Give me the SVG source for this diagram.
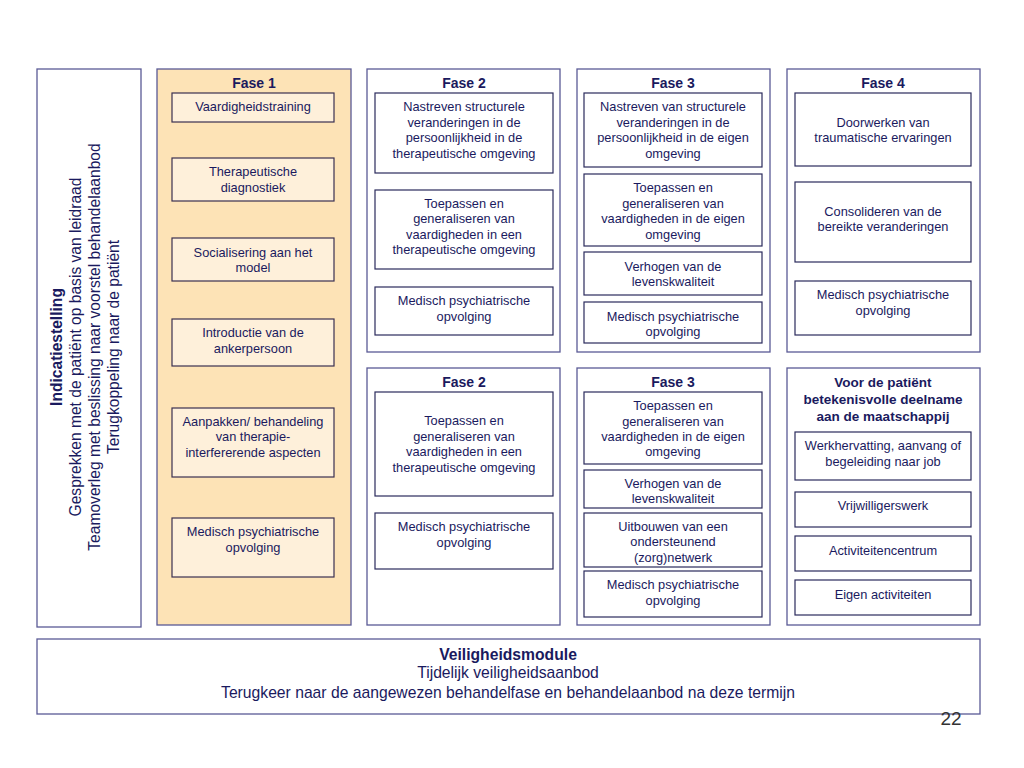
<svg xmlns="http://www.w3.org/2000/svg" width="1024" height="768" viewBox="0 0 1024 768">
<style>
.outer{fill:#ffffff;stroke:#5a5a96;stroke-width:1.3}
.outerF1{fill:#fde3b6;stroke:#5a5a96;stroke-width:1.3}
.inner{fill:#ffffff;stroke:#2a2a5c;stroke-width:1.2}
.innerF1{fill:#fef0da;stroke:#3a3050;stroke-width:1.2}
text{font-family:"Liberation Sans",Arial,sans-serif;fill:#1a1a5e;text-anchor:middle}
.t{font-size:12.8px}
.h{font-size:14px;font-weight:bold}
.hv{font-size:13.5px;font-weight:bold}
.v{font-size:15.6px}
.vb{font-size:15.6px;font-weight:bold}
.m{font-size:15.7px}
.mb{font-size:15.7px;font-weight:bold}
.num{font-size:19px;fill:#333333}
</style>
<rect width="1024" height="768" fill="#ffffff"/>

<g id="indicatiestelling">
<rect class="outer" x="37" y="69" width="104" height="558"/>
<g transform="translate(0,347) rotate(-90)">
<text class="vb" x="0" y="62">Indicatiestelling</text>
<text class="v" x="0" y="81">Gesprekken met de patiënt op basis van leidraad</text>
<text class="v" x="0" y="100">Teamoverleg met beslissing naar voorstel behandelaanbod</text>
<text class="v" x="0" y="119">Terugkoppeling naar de patiënt</text>
</g>
</g>

<g id="fase1">
<rect class="outerF1" x="157" y="69" width="194" height="556"/>
<text class="h" x="254" y="88">Fase 1</text>
<rect class="innerF1" x="172" y="93" width="162" height="29"/>
<text class="t" x="253" y="110.5">Vaardigheidstraining</text>
<rect class="innerF1" x="172" y="158" width="162" height="43"/>
<text class="t" x="253" y="175.5">Therapeutische</text>
<text class="t" x="253" y="191.5">diagnostiek</text>
<rect class="innerF1" x="172" y="238" width="162" height="43"/>
<text class="t" x="253" y="256.5">Socialisering aan het</text>
<text class="t" x="253" y="271.5">model</text>
<rect class="innerF1" x="172" y="319" width="162" height="47"/>
<text class="t" x="253" y="336.5">Introductie van de</text>
<text class="t" x="253" y="352.5">ankerpersoon</text>
<rect class="innerF1" x="172" y="408" width="162" height="69"/>
<text class="t" x="253" y="425.5">Aanpakken/ behandeling</text>
<text class="t" x="253" y="440.5">van therapie-</text>
<text class="t" x="253" y="456.5">interfererende aspecten</text>
<rect class="innerF1" x="172" y="518" width="162" height="59"/>
<text class="t" x="253" y="535.5">Medisch psychiatrische</text>
<text class="t" x="253" y="551.5">opvolging</text>
</g>

<g id="fase2-top">
<rect class="outer" x="367" y="69" width="193" height="283"/>
<text class="h" x="464" y="88">Fase 2</text>
<rect class="inner" x="375" y="93" width="178" height="80"/>
<text class="t" x="464" y="110.5">Nastreven structurele</text>
<text class="t" x="464" y="126.5">veranderingen in de</text>
<text class="t" x="464" y="141.5">persoonlijkheid in de</text>
<text class="t" x="464" y="157.5">therapeutische omgeving</text>
<rect class="inner" x="375" y="190" width="178" height="79"/>
<text class="t" x="464" y="207.5">Toepassen en</text>
<text class="t" x="464" y="222.5">generaliseren van</text>
<text class="t" x="464" y="238.5">vaardigheden in een</text>
<text class="t" x="464" y="253.5">therapeutische omgeving</text>
<rect class="inner" x="375" y="287" width="178" height="48"/>
<text class="t" x="464" y="304.5">Medisch psychiatrische</text>
<text class="t" x="464" y="320.5">opvolging</text>
</g>

<g id="fase3-top">
<rect class="outer" x="577" y="69" width="193" height="283"/>
<text class="h" x="673" y="88">Fase 3</text>
<rect class="inner" x="584" y="93" width="178" height="74"/>
<text class="t" x="673" y="110.5">Nastreven van structurele</text>
<text class="t" x="673" y="126.5">veranderingen in de</text>
<text class="t" x="673" y="141.5">persoonlijkheid in de eigen</text>
<text class="t" x="673" y="157.5">omgeving</text>
<rect class="inner" x="584" y="174" width="178" height="72"/>
<text class="t" x="673" y="191.5">Toepassen en</text>
<text class="t" x="673" y="207.5">generaliseren van</text>
<text class="t" x="673" y="222.5">vaardigheden in de eigen</text>
<text class="t" x="673" y="238.5">omgeving</text>
<rect class="inner" x="584" y="252" width="178" height="43"/>
<text class="t" x="673" y="270.5">Verhogen van de</text>
<text class="t" x="673" y="285.5">levenskwaliteit</text>
<rect class="inner" x="584" y="302" width="178" height="41"/>
<text class="t" x="673" y="320.5">Medisch psychiatrische</text>
<text class="t" x="673" y="335.5">opvolging</text>
</g>

<g id="fase4">
<rect class="outer" x="787" y="69" width="193" height="283"/>
<text class="h" x="883" y="88">Fase 4</text>
<rect class="inner" x="795" y="93" width="176" height="73"/>
<text class="t" x="883" y="126.5">Doorwerken van</text>
<text class="t" x="883" y="141.5">traumatische ervaringen</text>
<rect class="inner" x="795" y="182" width="176" height="80"/>
<text class="t" x="883" y="215.5">Consolideren van de</text>
<text class="t" x="883" y="230.5">bereikte veranderingen</text>
<rect class="inner" x="795" y="281" width="176" height="54"/>
<text class="t" x="883" y="298.5">Medisch psychiatrische</text>
<text class="t" x="883" y="314.5">opvolging</text>
</g>

<g id="fase2-bottom">
<rect class="outer" x="367" y="368" width="193" height="257"/>
<text class="h" x="464" y="387">Fase 2</text>
<rect class="inner" x="375" y="392" width="178" height="104"/>
<text class="t" x="464" y="424.5">Toepassen en</text>
<text class="t" x="464" y="440.5">generaliseren van</text>
<text class="t" x="464" y="455.5">vaardigheden in een</text>
<text class="t" x="464" y="471.5">therapeutische omgeving</text>
<rect class="inner" x="375" y="513" width="178" height="56"/>
<text class="t" x="464" y="530.5">Medisch psychiatrische</text>
<text class="t" x="464" y="546.5">opvolging</text>
</g>

<g id="fase3-bottom">
<rect class="outer" x="577" y="368" width="193" height="257"/>
<text class="h" x="673" y="387">Fase 3</text>
<rect class="inner" x="584" y="392" width="178" height="72"/>
<text class="t" x="673" y="409.5">Toepassen en</text>
<text class="t" x="673" y="425.5">generaliseren van</text>
<text class="t" x="673" y="440.5">vaardigheden in de eigen</text>
<text class="t" x="673" y="455.5">omgeving</text>
<rect class="inner" x="584" y="470" width="178" height="38"/>
<text class="t" x="673" y="487.5">Verhogen van de</text>
<text class="t" x="673" y="502.5">levenskwaliteit</text>
<rect class="inner" x="584" y="513" width="178" height="54"/>
<text class="t" x="673" y="530.5">Uitbouwen van een</text>
<text class="t" x="673" y="545.5">ondersteunend</text>
<text class="t" x="673" y="561.5">(zorg)netwerk</text>
<rect class="inner" x="584" y="571" width="178" height="46"/>
<text class="t" x="673" y="588.5">Medisch psychiatrische</text>
<text class="t" x="673" y="604.5">opvolging</text>
</g>

<g id="maatschappij">
<rect class="outer" x="787" y="368" width="193" height="257"/>
<text class="hv" x="883" y="387">Voor de patiënt</text>
<text class="hv" x="883" y="404">betekenisvolle deelname</text>
<text class="hv" x="883" y="421">aan de maatschappij</text>
<rect class="inner" x="795" y="432" width="176" height="48"/>
<text class="t" x="883" y="449.5">Werkhervatting, aanvang of</text>
<text class="t" x="883" y="465.5">begeleiding naar job</text>
<rect class="inner" x="795" y="492" width="176" height="35"/>
<text class="t" x="883" y="509.5">Vrijwilligerswerk</text>
<rect class="inner" x="795" y="536" width="176" height="35"/>
<text class="t" x="883" y="554.5">Activiteitencentrum</text>
<rect class="inner" x="795" y="580" width="176" height="35"/>
<text class="t" x="883" y="598.5">Eigen activiteiten</text>
</g>

<g id="veiligheidsmodule">
<rect class="outer" x="37" y="639" width="943" height="75"/>
<text class="mb" x="508" y="660">Veiligheidsmodule</text>
<text class="m" x="508" y="678">Tijdelijk veiligheidsaanbod</text>
<text class="m" x="508" y="698">Terugkeer naar de aangewezen behandelfase en behandelaanbod na deze termijn</text>
</g>

<g id="connectors"></g>

<text class="num" x="951" y="725">22</text>
</svg>
